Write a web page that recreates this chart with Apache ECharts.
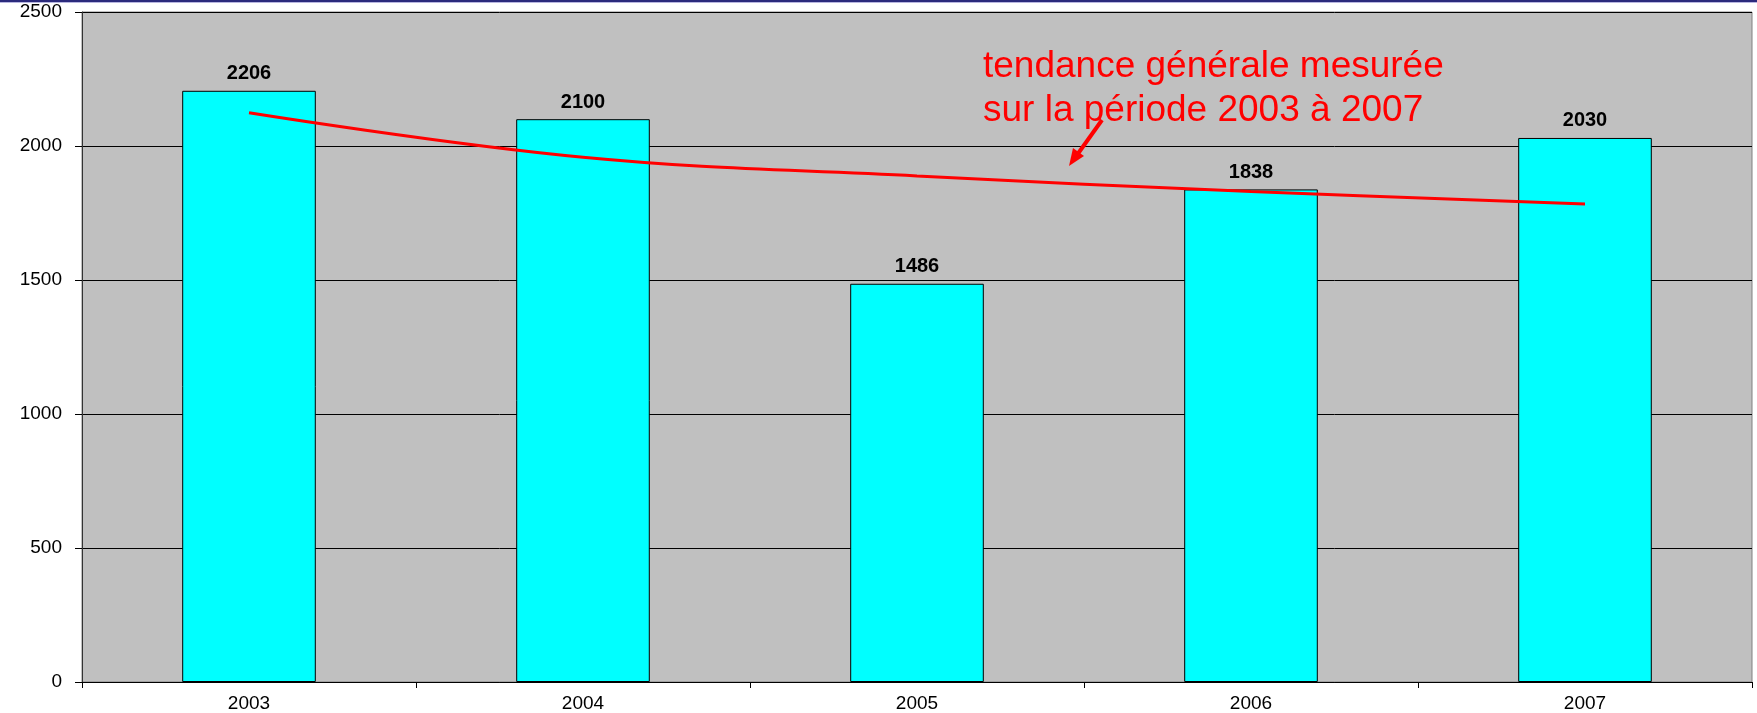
<!DOCTYPE html>
<html>
<head>
<meta charset="utf-8">
<title>Tendance 2003-2007</title>
<script src="https://cdn.jsdelivr.net/npm/echarts@6/dist/echarts.min.js"></script>
<style>
  html, body { margin: 0; padding: 0; background: #fff; }
  #main { width: 1757px; height: 713px; }
</style>
</head>
<body>
<div id="main"></div>
<script>
// données
var years = ['2003', '2004', '2005', '2006', '2007'];
var counts = [2206, 2100, 1486, 1838, 2030];
// courbe de tendance (rouge), valeurs estimées au centre de chaque année
var trend = [2124, 1958, 1888, 1830, 1784];
var yTicks = [0, 500, 1000, 1500, 2000, 2500];

var myChart = echarts.init(document.getElementById('main'));

var option = {
    backgroundColor: '#fff',
    animation: false,
    textStyle: { fontFamily: 'Liberation Sans, Arial, sans-serif' },
    grid: {
        left: 82, right: 5, top: 12, bottom: 31,
        show: true,
        backgroundColor: '#C0C0C0',
        borderColor: '#808080',
        borderWidth: 1
    },
    xAxis: {
        type: 'category',
        data: years,
        boundaryGap: true,
        axisLine: { lineStyle: { color: '#000', width: 1 } },
        axisTick: { show: true, length: 6, lineStyle: { color: '#000' } },
        axisLabel: { color: '#000', fontSize: 19, margin: 12 }
    },
    yAxis: {
        type: 'value',
        min: yTicks[0],
        max: yTicks[yTicks.length - 1],
        interval: 500,
        axisLine: { show: true, lineStyle: { color: '#333', width: 1 } },
        axisTick: { show: true, length: 7, lineStyle: { color: '#000' } },
        axisLabel: {
            color: '#000', fontSize: 19, margin: 20,
            formatter: function (v) { return String(v); }
        },
        splitLine: { lineStyle: { color: '#000', width: 1 } }
    },
    series: [
        {
            name: 'nombre',
            type: 'bar',
            data: counts,
            barWidth: '40%',
            itemStyle: { color: '#00FFFF', borderColor: '#000', borderWidth: 1 },
            label: {
                show: true,
                position: 'top',
                distance: 7,
                color: '#000',
                fontWeight: 'bold',
                fontSize: 20
            },
            z: 2
        },
        {
            name: 'tendance',
            type: 'line',
            data: trend,
            smooth: 0.4,
            symbol: 'none',
            lineStyle: { color: '#FF0000', width: 3 },
            z: 5
        }
    ],
    graphic: [
        // bandeau en haut de la diapo
        { type: 'rect', left: 0, top: 0, shape: { width: 1757, height: 2 }, style: { fill: '#2B2A7C' }, z: 10 },
        { type: 'rect', left: 0, top: 2, shape: { width: 1757, height: 1 }, style: { fill: '#B8B6E0' }, z: 10 },
        // annotation
        {
            type: 'text', x: 983, y: 67, z: 20,
            style: {
                text: 'tendance générale mesurée',
                fill: '#FF0000',
                font: '37px "Liberation Sans", Arial, sans-serif',
                verticalAlign: 'middle'
            }
        },
        {
            type: 'text', x: 983, y: 111, z: 20,
            style: {
                text: 'sur la période 2003 à 2007',
                fill: '#FF0000',
                font: '37px "Liberation Sans", Arial, sans-serif',
                verticalAlign: 'middle'
            }
        },
        // flèche
        {
            type: 'line', z: 20,
            shape: { x1: 1102, y1: 120, x2: 1077, y2: 155 },
            style: { stroke: '#FF0000', lineWidth: 4 }
        },
        {
            type: 'polygon', z: 20,
            shape: { points: [[1069, 166], [1084, 156], [1073, 148]] },
            style: { fill: '#FF0000' }
        }
    ]
};

myChart.setOption(option);
</script>
</body>
</html>
